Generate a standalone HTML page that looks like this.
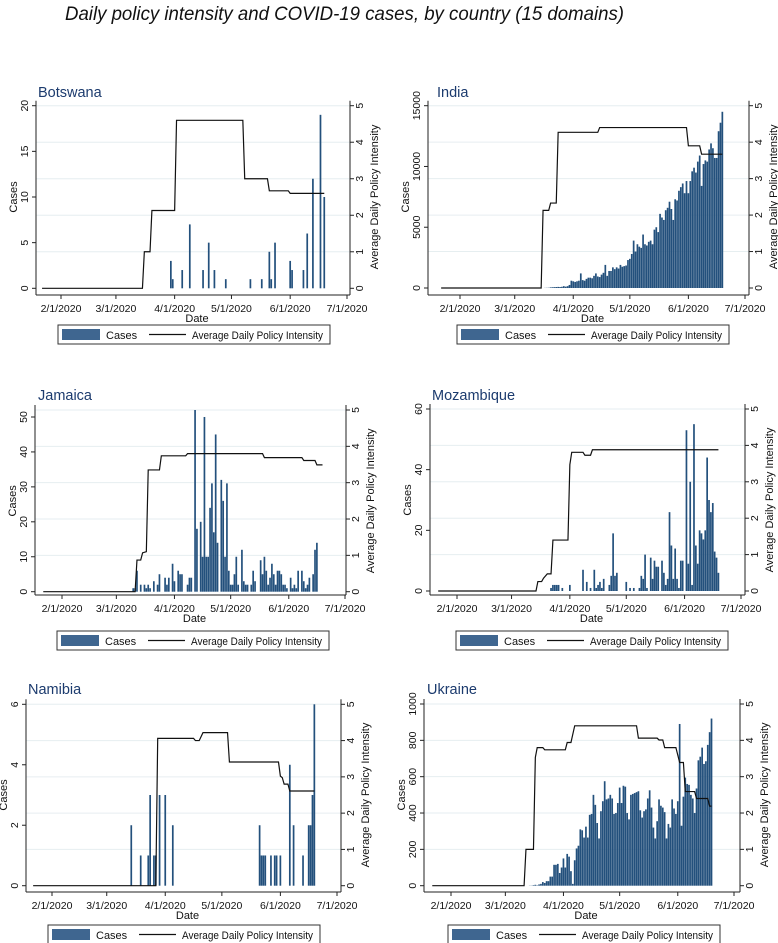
<!DOCTYPE html>
<html><head><meta charset="utf-8"><style>
html,body{margin:0;padding:0;background:#fff}
svg{display:block;font-family:"Liberation Sans",sans-serif}
</style></head><body>
<svg id="chart" width="778" height="943" viewBox="0 0 778 943" xmlns="http://www.w3.org/2000/svg">
<text x="65" y="20" font-size="19" font-style="italic" textLength="559" lengthAdjust="spacingAndGlyphs" fill="#111">Daily policy intensity and COVID-19 cases, by country (15 domains)</text>
</svg>
<script>
// Days are counted from 2/1/2020 (day 0)
const dateTickLabels = ["2/1/2020","3/1/2020","4/1/2020","5/1/2020","6/1/2020","7/1/2020"];
const dateTickDays = [0,29,60,90,121,151];
const policyTicks = [0,1,2,3,4,5];

const botswanaCaseDays = [58,59,64,68,75,78,81,87,100,106,110,111,113,121,122,128,130,133,137,139];
const botswanaCaseVals = [3,1,2,7,2,5,2,1,1,1,4,1,5,3,2,2,6,12,19,10];
const botswanaPolicyDays = [-10,43,44,47,48,60,61,96,97,109,110,120,121,139];
const botswanaPolicyVals = [0,0,1,1,2.13,2.13,4.6,4.6,3,3,2.67,2.67,2.6,2.6];

const indiaCaseStart = 45;
const indiaCaseVals = [10,15,20,50,60,70,80,90,80,100,150,110,150,250,600,
550,500,550,600,1200,650,600,750,850,850,
800,1000,1200,950,900,1100,1250,1900,1000,1400,
1400,1700,1550,1700,1600,1900,1750,1800,1850,2300,
2400,2800,3900,3000,3600,3400,3300,4400,3600,3500,
3800,3900,3600,4800,5000,4600,6100,5800,5600,6400,
6600,7100,6500,5600,7300,7200,8000,8300,8600,7800,
8800,7800,8800,9600,9900,9500,10400,10900,8400,10200,
10500,10400,11400,11900,11500,10700,10700,12900,13600,14500];
const indiaPolicyDays = [-10,43,44,47,48,51,52,73,74,120,121,127,128,139];
const indiaPolicyVals = [0,0,2.13,2.13,2.33,2.33,4.27,4.27,4.4,4.4,3.9,3.9,3.67,3.67];

const jamaicaCaseStart = 38;
const jamaicaCaseVals = [1,1,6,0,2,0,2,1,2,1,0,3,0,2,5,0,0,4,2,4,0,8,3,0,6,5,5,0,0,2,4,4,0,52,18,0,20,10,50,10,10,24,31,17,45,14,0,32,26,10,31,6,2,2,5,10,2,0,12,3,2,2,0,2,6,3,0,0,9,5,10,6,2,4,8,5,2,6,6,5,2,2,1,0,4,1,2,1,6,0,6,3,1,2,4,0,5,12,14];
const jamaicaPolicyDays = [-10,39,40,42,43,45,46,52,53,66,67,107,108,128,129,135,136,139];
const jamaicaPolicyVals = [0,0,0.87,0.87,1.07,1.1,3.35,3.35,3.74,3.74,3.8,3.8,3.69,3.69,3.61,3.61,3.49,3.49];

const mozambiqueCaseDays = [50,51,52,53,54,56,60,67,69,71,73,74,75,76,77,78,81,82,83,84,85,90,92,94,97,98,99,100,101,103,104,105,106,107,109,110,111,112,113,114,115,116,117,118,119,120,122,123,124,125,126,127,128,129,130,131,132,133,134,135,136,137,138,139];
const mozambiqueCaseVals = [1,2,2,2,2,1,2,7,3,1,7,1,2,3,1,4,2,5,19,5,6,3,1,1,1,5,4,12,1,11,4,10,8,8,10,6,2,4,26,15,4,14,4,1,10,10,53,9,36,2,55,15,9,20,19,17,20,44,30,26,29,13,11,6];
const mozambiquePolicyDays = [-10,42,43,45,46,48,50,51,59,60,61,67,68,71,72,139];
const mozambiquePolicyVals = [0,0,0.26,0.26,0.35,0.47,0.47,1.4,1.4,3.47,3.81,3.81,3.73,3.73,3.88,3.88];

const namibiaCaseDays = [42,47,51,52,54,55,57,60,64,110,111,112,113,116,118,119,121,126,128,133,136,137,138,139];
const namibiaCaseVals = [2,1,1,3,1,1,3,3,2,2,1,1,1,1,1,1,1,4,2,1,2,2,3,6];
const namibiaPolicyDays = [-10,55,56,75,76,78,80,93,94,120,121,122,123,125,126,139];
const namibiaPolicyVals = [0,0,4.06,4.06,4.0,4.0,4.22,4.22,3.41,3.41,3.02,2.98,2.8,2.8,2.61,2.61];

const ukraineCaseStart = 42;
const ukraineCaseVals = [1,1,3,5,2,7,10,20,15,25,25,50,50,115,115,120,70,100,150,100,175,160,80,10,140,205,220,310,305,265,325,265,390,395,500,445,345,260,410,465,575,475,480,500,480,395,400,455,540,455,550,545,400,365,500,505,510,515,520,415,375,410,420,480,525,430,320,260,355,475,440,430,405,260,340,320,475,425,395,465,890,330,490,595,560,555,500,480,400,535,690,710,760,670,685,775,845,920];
const ukrainePolicyDays = [-10,39,40,44,45,46,49,50,61,62,64,66,99,100,110,111,113,114,120,122,124,125,130,131,137,138,139];
const ukrainePolicyVals = [0,0,1,1,3.53,3.8,3.8,3.74,3.74,3.94,3.94,4.4,4.4,4.06,4.06,4.01,4.01,3.8,3.8,3.39,3.39,2.59,2.59,2.4,2.4,2.19,2.19];

const NS = "http://www.w3.org/2000/svg";
const svg = document.getElementById("chart");
function mk(tag, attrs, parent){
  const e = document.createElementNS(NS, tag);
  for (const k in attrs) e.setAttribute(k, attrs[k]);
  (parent||svg).appendChild(e);
  return e;
}
function denseDays(start, vals){ const d=[]; for(let i=0;i<vals.length;i++) d.push(start+i); return d; }

const panels = [
 {id:"botswana", title:"Botswana", axL:36, axR:350, y0:288.3, yT:105.7, xl:295, x21:61, x71:347, max:20, ticks:[0,5,10,15,20], cd:botswanaCaseDays, cv:botswanaCaseVals, pd:botswanaPolicyDays, pv:botswanaPolicyVals, tx:38, ty:97, lgX:58, lgY:325},
 {id:"india", title:"India", axL:428, axR:749, y0:288, yT:105.7, xl:295, x21:460, x71:745, max:15000, ticks:[0,5000,10000,15000], cd:denseDays(indiaCaseStart,indiaCaseVals), cv:indiaCaseVals, pd:indiaPolicyDays, pv:indiaPolicyVals, tx:437, ty:97, lgX:457, lgY:325},
 {id:"jamaica", title:"Jamaica", axL:35, axR:346, y0:591.7, yT:410, xl:595, x21:62, x71:345, max:52, ticks:[0,10,20,30,40,50], cd:denseDays(jamaicaCaseStart,jamaicaCaseVals), cv:jamaicaCaseVals, pd:jamaicaPolicyDays, pv:jamaicaPolicyVals, tx:38, ty:400, lgX:57, lgY:631},
 {id:"mozambique", title:"Mozambique", axL:430, axR:745, y0:591, yT:409, xl:595, x21:457, x71:741, max:60, ticks:[0,20,40,60], cd:mozambiqueCaseDays, cv:mozambiqueCaseVals, pd:mozambiquePolicyDays, pv:mozambiquePolicyVals, tx:432, ty:400, lgX:456, lgY:631},
 {id:"namibia", title:"Namibia", axL:26, axR:341, y0:885.7, yT:704.3, xl:892, x21:52, x71:337, max:6, ticks:[0,2,4,6], cd:namibiaCaseDays, cv:namibiaCaseVals, pd:namibiaPolicyDays, pv:namibiaPolicyVals, tx:28, ty:694, lgX:48, lgY:925},
 {id:"ukraine", title:"Ukraine", axL:424, axR:740, y0:885.7, yT:704, xl:892, x21:451, x71:734, max:1000, ticks:[0,200,400,600,800,1000], cd:denseDays(ukraineCaseStart,ukraineCaseVals), cv:ukraineCaseVals, pd:ukrainePolicyDays, pv:ukrainePolicyVals, tx:427, ty:694, lgX:448, lgY:925}
];

panels.forEach(p=>{
  const g = mk("g",{});
  
  
  const ppd = (p.x71-p.x21)/151;
  const xs = d => p.x21 + d*ppd;
  const ysC = v => p.y0 - v/p.max*(p.y0-p.yT);
  const ysP = v => p.y0 - v/5*(p.y0-p.yT);
  policyTicks.forEach(t=>{
    if(t===0) return;
    const l = mk("line",{x1:p.axL,x2:p.axR,y1:ysP(t),y2:ysP(t),stroke:"#e6eef0","stroke-width":1},g);
    
    
  });
  const t = mk("text",{x:p.tx,y:p.ty,"font-size":14.5,fill:"#1c3b6e"},g);
  t.textContent = p.title;
  
  
  const bw = ppd*0.9;
  p.cd.forEach((d,i)=>{
    const v = p.cv[i];
    if(v<=0) return;
    const r = mk("rect",{x:xs(d)-bw/2,y:ysC(v),width:bw,height:p.y0-ysC(v),fill:"#23507c"},g);
    
    
  });
  const pts = p.pd.map((d,i)=>xs(d).toFixed(2)+","+ysP(p.pv[i]).toFixed(2)).join(" ");
  const pl = mk("polyline",{points:pts,fill:"none",stroke:"#111","stroke-width":1.2},g);
  
  
  const top = p.yT-5;
  const la = mk("line",{x1:p.axL,x2:p.axL,y1:top,y2:p.xl,stroke:"#222","stroke-width":1},g);
  
  
  const ra = mk("line",{x1:p.axR,x2:p.axR,y1:top,y2:p.xl,stroke:"#222","stroke-width":1},g);
  
  
  const xa = mk("line",{x1:p.axL,x2:p.axR,y1:p.xl,y2:p.xl,stroke:"#222","stroke-width":1},g);
  
  
  p.ticks.forEach(v=>{
    const y = ysC(v);
    mk("line",{x1:p.axL-4,x2:p.axL,y1:y,y2:y,stroke:"#222"},g);
    const tl = mk("text",{x:0,y:0,"font-size":10.5,"text-anchor":"middle",fill:"#111",transform:`translate(${p.axL-8},${y}) rotate(-90)`},g);
    tl.textContent = String(v);
    
    
  });
  policyTicks.forEach(v=>{
    const y = ysP(v);
    mk("line",{x1:p.axR,x2:p.axR+4,y1:y,y2:y,stroke:"#222"},g);
    const tl = mk("text",{x:0,y:0,"font-size":10.5,"text-anchor":"middle",fill:"#111",transform:`translate(${p.axR+13},${y}) rotate(-90)`},g);
    tl.textContent = String(v);
    
    
  });
  dateTickDays.forEach((d,i)=>{
    const x = xs(d);
    mk("line",{x1:x,x2:x,y1:p.xl,y2:p.xl+4,stroke:"#222"},g);
    const tl = mk("text",{x:x,y:p.xl+17,"font-size":10.5,"text-anchor":"middle",fill:"#111"},g);
    tl.textContent = dateTickLabels[i];
    
    
  });
  const mid = (p.yT+p.y0)/2;
  const yl = mk("text",{x:0,y:0,"font-size":11,"text-anchor":"middle",fill:"#111",transform:`translate(${p.axL-19},${mid}) rotate(-90)`},g);
  yl.textContent = "Cases";
  
  
  const yr = mk("text",{x:0,y:0,"font-size":11,"text-anchor":"middle",fill:"#111",transform:`translate(${p.axR+28},${mid}) rotate(-90)`},g);
  yr.textContent = "Average Daily Policy Intensity";
  
  
  const xt = mk("text",{x:(p.axL+p.axR)/2+4,y:p.xl+27,"font-size":11,"text-anchor":"middle",fill:"#111"},g);
  xt.textContent = "Date";
  
  
  const lg = mk("g",{},g);
  
  
  mk("rect",{x:p.lgX,y:p.lgY,width:272,height:19,fill:"#fff",stroke:"#333","stroke-width":1},lg);
  const sw = mk("rect",{x:p.lgX+4,y:p.lgY+4,width:38,height:11,fill:"#3f6690"},lg);
  
  
  const c1 = mk("text",{x:p.lgX+48,y:p.lgY+14,"font-size":11,fill:"#111"},lg);
  c1.textContent = "Cases";
  
  
  const ln = mk("line",{x1:p.lgX+91,x2:p.lgX+128,y1:p.lgY+9.5,y2:p.lgY+9.5,stroke:"#111","stroke-width":1.2},lg);
  
  
  const c2 = mk("text",{x:p.lgX+134,y:p.lgY+14,"font-size":11,fill:"#111",textLength:131,lengthAdjust:"spacingAndGlyphs"},lg);
  c2.textContent = "Average Daily Policy Intensity";
  
  
});
</script>
</body></html>
